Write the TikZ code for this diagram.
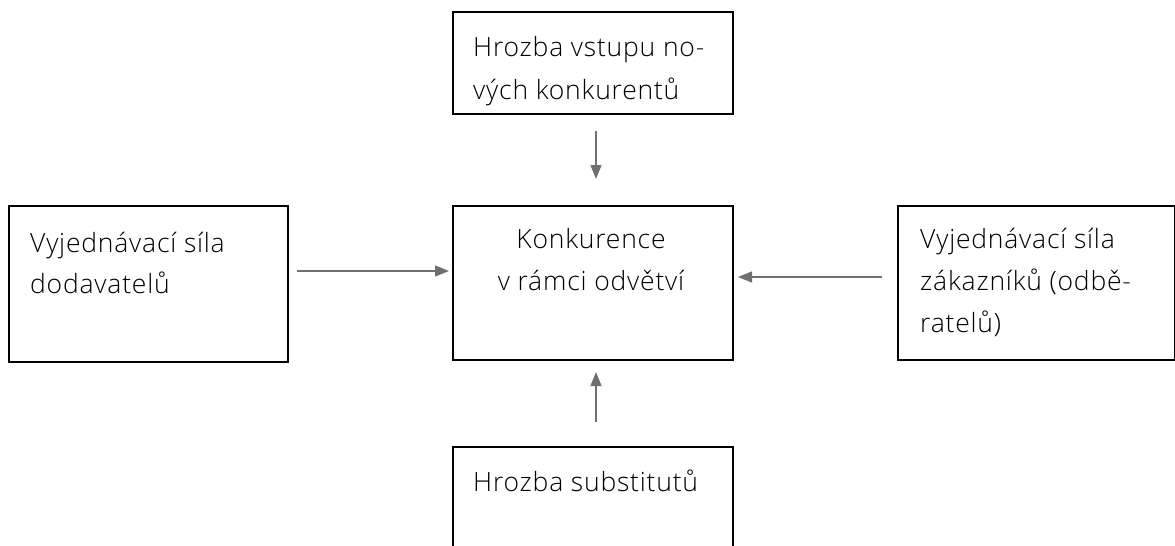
\documentclass[tikz,border=0pt]{standalone}
\usepackage{fontspec}
\setmainfont{Open Sans Light}[LetterSpace=3]
\usetikzlibrary{arrows.meta}
\definecolor{arrowgray}{HTML}{707070}
\tikzset{
  box/.style={draw=black, line width=1.6pt, rectangle, anchor=north west, inner sep=0pt},
  label/.style={anchor=base west, align=left, inner sep=0pt, font=\fontsize{26.5}{42}\selectfont},
  clabel/.style={anchor=base, align=center, inner sep=0pt, font=\fontsize{26.5}{42}\selectfont},
  arr/.style={draw=arrowgray, line width=1.3pt, -{Triangle[length=14pt,width=11pt]}, arrowgray}
}
\begin{document}
\begin{tikzpicture}[x=1pt,y=-1pt]
\useasboundingbox (0,0) rectangle (1175,546);
% boxes
\node[box, minimum width=280pt, minimum height=102pt] (entry) at (452,11) {};
\node[box, minimum width=279pt, minimum height=156pt] (supp) at (8,205) {};
\node[box, minimum width=280pt, minimum height=154pt] (rival) at (452,205) {};
\node[box, minimum width=277pt, minimum height=154pt] (cust) at (897,205) {};
\begin{scope}
\clip (0,0) rectangle (1175,546);
\node[box, minimum width=280pt, minimum height=120pt] (subst) at (452,446) {};
\end{scope}
% texts (anchored on the baseline of the last line)
\node[label, font=\fontsize{26.5}{43}\selectfont] (tentry) at (473,99) {Hrozba vstupu no-\\vých konkurentů};
\node[label, font=\fontsize{26.5}{41}\selectfont] (tsupp) at (30,293) {Vyjednávací síla\\dodavatelů};
\node[clabel] (trival) at (591,290) {Konkurence\\v rámci odvětví};
\node[label] (tcust) at (920,332) {Vyjednávací síla\\zákazníků (odbě-\\ratelů)};
\node[label] (tsubst) at (473,491) {Hrozba substitutů};
% arrow end points
\coordinate (e1) at (596,131); \coordinate (e2) at (596,179);
\coordinate (s1) at (297,271); \coordinate (s2) at (449,271);
\coordinate (c1) at (882,277); \coordinate (c2) at (738,277);
\coordinate (b1) at (596,422); \coordinate (b2) at (596,372);
\draw[arr] (e1) -- (e2);
\draw[arr] (s1) -- (s2);
\draw[arr] (c1) -- (c2);
\draw[arr] (b1) -- (b2);
\end{tikzpicture}
\end{document}
